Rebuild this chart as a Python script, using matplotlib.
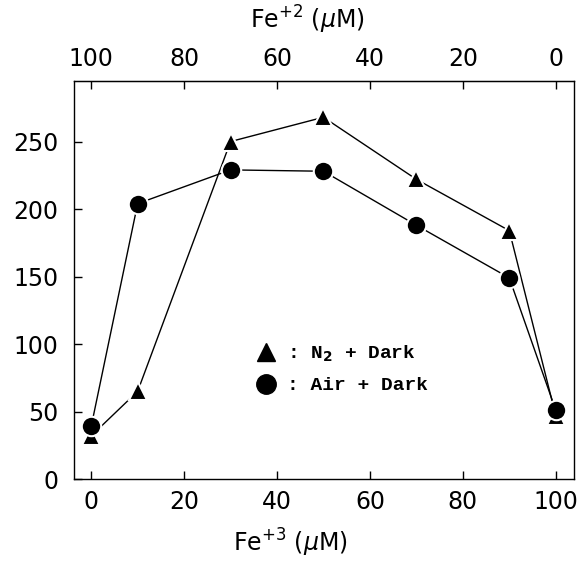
import matplotlib
matplotlib.use('Agg')
import matplotlib.pyplot as plt
from matplotlib.lines import Line2D

# Fe+3 concentration (uM); Fe+2 = 100 - Fe+3
fe3 = [0, 10, 30, 50, 70, 90, 100]
n2_dark = [32, 65, 250, 268, 222, 184, 47]
air_dark = [39, 204, 229, 228, 188, 149, 51]

xticks = [0, 20, 40, 60, 80, 100]
yticks = [0, 50, 100, 150, 200, 250]

matplotlib.rcParams.update({'font.size': 17, 'font.family': 'DejaVu Sans'})

fig = plt.figure(figsize=(5.85, 5.61), dpi=100)
ax = fig.add_axes([0.1265, 0.146, 0.8545, 0.71])

# lines stop short of the markers (white marker edge gives the gap)
ax.plot(fe3, n2_dark, color='black', lw=1.0, marker='^', ms=13,
        mfc='black', mec='white', mew=1.5, zorder=3)
ax.plot(fe3, air_dark, color='black', lw=1.0, marker='o', ms=14,
        mfc='black', mec='white', mew=1.5, zorder=3)

ax.set_xlim(-3.7, 103.9)
ax.set_ylim(0, 295)
ax.set_xticks(xticks)
ax.set_yticks(yticks)
ax.tick_params(axis='both', direction='in', length=6, width=1.0)
ax.tick_params(axis='y', pad=11)
ax.tick_params(axis='x', pad=8)
for s in ax.spines.values():
    s.set_linewidth(1.0)
ax.set_xlabel('Fe$^{+3}$ ($\\mu$M)', labelpad=9)
ax.xaxis.label.set_x(0.432)

top = ax.secondary_xaxis('top', functions=(lambda x: 100 - x, lambda x: 100 - x))
top.set_xticks(xticks)
top.tick_params(direction='in', length=6, width=1.0, pad=7)
top.set_xlabel('Fe$^{+2}$ ($\\mu$M)', labelpad=13)
top.xaxis.label.set_x(0.466)

handles = [
    Line2D([], [], ls='none', marker='^', ms=13, color='black'),
    Line2D([], [], ls='none', marker='o', ms=14, color='black'),
]
labels = [': N$_\\mathbf{2}$ + Dark', ': Air + Dark']
ax.legend(handles, labels, loc='upper left', bbox_to_anchor=(0.345, 0.364),
          frameon=False, handlelength=1.0, handletextpad=0.6, labelspacing=0.65,
          borderpad=0, prop={'family': 'Liberation Mono', 'weight': 'bold', 'size': 14})

fig.savefig('out.png', dpi=100)
